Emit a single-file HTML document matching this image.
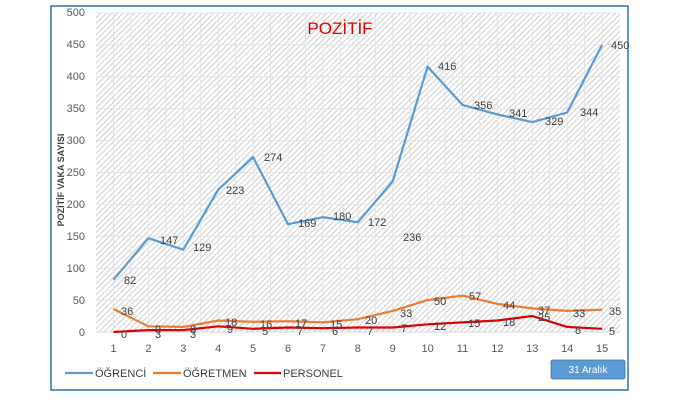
<!DOCTYPE html>
<html><head><meta charset="utf-8"><style>
body{margin:0;background:#fff;}
svg{display:block;font-family:"Liberation Sans",sans-serif;}
</style></head><body>
<svg width="687" height="404" viewBox="0 0 687 404" xmlns="http://www.w3.org/2000/svg">
<defs>
<pattern id="h" width="4" height="4" patternUnits="userSpaceOnUse" patternTransform="rotate(45)">
<rect width="4" height="4" fill="#fff"/><line x1="0" y1="0" x2="0" y2="4" stroke="#bdbdbd" stroke-width="1.4"/>
</pattern>
</defs>
<rect x="51" y="6" width="577" height="384" fill="#fff" stroke="#2e75b6" stroke-width="1.5"/>
<rect x="96" y="13" width="524" height="319" fill="url(#h)"/>
<g stroke="#e4e4e4" stroke-width="1">
<line x1="96" x2="620" y1="13" y2="13"/><line x1="96" x2="620" y1="44.9" y2="44.9"/><line x1="96" x2="620" y1="76.8" y2="76.8"/><line x1="96" x2="620" y1="108.7" y2="108.7"/><line x1="96" x2="620" y1="140.6" y2="140.6"/><line x1="96" x2="620" y1="172.5" y2="172.5"/><line x1="96" x2="620" y1="204.4" y2="204.4"/><line x1="96" x2="620" y1="236.3" y2="236.3"/><line x1="96" x2="620" y1="268.2" y2="268.2"/><line x1="96" x2="620" y1="300.1" y2="300.1"/>
<line y1="13" y2="332" x1="113.5" x2="113.5"/><line y1="13" y2="332" x1="131" x2="131"/><line y1="13" y2="332" x1="148.4" x2="148.4"/><line y1="13" y2="332" x1="165.8" x2="165.8"/><line y1="13" y2="332" x1="183.3" x2="183.3"/><line y1="13" y2="332" x1="200.7" x2="200.7"/><line y1="13" y2="332" x1="218.2" x2="218.2"/><line y1="13" y2="332" x1="235.6" x2="235.6"/><line y1="13" y2="332" x1="253.1" x2="253.1"/><line y1="13" y2="332" x1="270.5" x2="270.5"/><line y1="13" y2="332" x1="288" x2="288"/><line y1="13" y2="332" x1="305.4" x2="305.4"/><line y1="13" y2="332" x1="322.9" x2="322.9"/><line y1="13" y2="332" x1="340.3" x2="340.3"/><line y1="13" y2="332" x1="357.8" x2="357.8"/><line y1="13" y2="332" x1="375.2" x2="375.2"/><line y1="13" y2="332" x1="392.7" x2="392.7"/><line y1="13" y2="332" x1="410.1" x2="410.1"/><line y1="13" y2="332" x1="427.6" x2="427.6"/><line y1="13" y2="332" x1="445" x2="445"/><line y1="13" y2="332" x1="462.5" x2="462.5"/><line y1="13" y2="332" x1="479.9" x2="479.9"/><line y1="13" y2="332" x1="497.4" x2="497.4"/><line y1="13" y2="332" x1="514.8" x2="514.8"/><line y1="13" y2="332" x1="532.3" x2="532.3"/><line y1="13" y2="332" x1="549.7" x2="549.7"/><line y1="13" y2="332" x1="567.2" x2="567.2"/><line y1="13" y2="332" x1="584.6" x2="584.6"/><line y1="13" y2="332" x1="602.1" x2="602.1"/>
</g>
<line x1="96" x2="620" y1="332" y2="332" stroke="#d9d9d9"/>
<g font-size="11" fill="#595959" text-anchor="end">
<text x="85" y="16">500</text><text x="85" y="48">450</text><text x="85" y="80">400</text><text x="85" y="112">350</text><text x="85" y="144">300</text><text x="85" y="176">250</text><text x="85" y="208">200</text><text x="85" y="240">150</text><text x="85" y="272">100</text><text x="85" y="304">50</text><text x="85" y="336">0</text>
</g>
<g font-size="11" fill="#595959" text-anchor="middle">
<text x="113.5" y="352">1</text><text x="148.4" y="352">2</text><text x="183.3" y="352">3</text><text x="218.2" y="352">4</text><text x="253.1" y="352">5</text><text x="288" y="352">6</text><text x="322.9" y="352">7</text><text x="357.8" y="352">8</text><text x="392.7" y="352">9</text><text x="427.6" y="352">10</text><text x="462.5" y="352">11</text><text x="497.4" y="352">12</text><text x="532.3" y="352">13</text><text x="567.2" y="352">14</text><text x="602.1" y="352">15</text>
</g>
<text transform="translate(64,180) rotate(-90)" font-size="9" font-weight="bold" fill="#404040" text-anchor="middle">POZİTİF VAKA SAYISI</text>
<text x="340" y="34" font-size="17" fill="#e00000" text-anchor="middle">POZİTİF</text>
<polyline fill="none" stroke="#5b9bd5" stroke-width="2.2" stroke-linejoin="round" points="113.5,279.7 148.4,238.2 183.3,249.7 218.2,189.7 253.1,157.2 288,224.2 322.9,217.2 357.8,222.3 392.7,181.4 427.6,66.6 462.5,104.9 497.4,114.4 532.3,122.1 567.2,112.5 602.1,44.9"/>
<polyline fill="none" stroke="#ed7d31" stroke-width="2.2" stroke-linejoin="round" points="113.5,309 148.4,326.3 183.3,326.9 218.2,320.5 253.1,321.8 288,321.2 322.9,322.4 357.8,319.2 392.7,310.9 427.6,300.1 462.5,295.6 497.4,303.9 532.3,308.4 567.2,310.9 602.1,309.7"/>
<polyline fill="none" stroke="#e00000" stroke-width="2.2" stroke-linejoin="round" points="113.5,332 148.4,330.1 183.3,330.1 218.2,326.3 253.1,328.8 288,327.5 322.9,328.2 357.8,327.5 392.7,327.5 427.6,324.3 462.5,322.4 497.4,320.5 532.3,316 567.2,326.9 602.1,328.8"/>
<g font-size="11" fill="#404040">
<text x="124" y="284">82</text><text x="160" y="244">147</text><text x="193" y="251">129</text><text x="226" y="194">223</text><text x="264" y="161">274</text><text x="298" y="227">169</text><text x="333" y="220">180</text><text x="368" y="226">172</text><text x="403" y="241">236</text><text x="438" y="70">416</text><text x="474" y="109">356</text><text x="509" y="117">341</text><text x="545" y="125">329</text><text x="580" y="116">344</text><text x="611" y="49">450</text>
<text x="121" y="315">36</text><text x="155" y="333">9</text><text x="190" y="333">8</text><text x="225" y="326">18</text><text x="260" y="328">16</text><text x="295" y="327">17</text><text x="330" y="328">15</text><text x="365" y="324">20</text><text x="400" y="317">33</text><text x="434" y="305">50</text><text x="469" y="300">57</text><text x="503" y="309">44</text><text x="538" y="314">37</text><text x="573" y="317">33</text><text x="609" y="315">35</text>
<text x="121" y="338">0</text><text x="155" y="338">3</text><text x="190" y="338">3</text><text x="227" y="333">9</text><text x="262" y="335">5</text><text x="297" y="335">7</text><text x="332" y="335">6</text><text x="367" y="335">7</text><text x="401" y="332">7</text><text x="434" y="330">12</text><text x="468" y="327">15</text><text x="503" y="326">18</text><text x="538" y="321">25</text><text x="575" y="334">8</text><text x="609" y="335">5</text>
</g>
<g font-size="11" fill="#404040">
<line x1="65" x2="93" y1="373" y2="373" stroke="#5b9bd5" stroke-width="2.2"/><text x="95" y="377">ÖĞRENCİ</text>
<line x1="153" x2="181" y1="373" y2="373" stroke="#ed7d31" stroke-width="2.2"/><text x="183" y="377">ÖĞRETMEN</text>
<line x1="254" x2="281" y1="373" y2="373" stroke="#e00000" stroke-width="2.2"/><text x="283" y="377">PERSONEL</text>
</g>
<rect x="551" y="360" width="74" height="19" rx="2" fill="#5b9bd5" stroke="#41719c" stroke-width="0.8"/>
<text x="588" y="373" font-size="10" fill="#fff" text-anchor="middle">31 Aralık</text>
</svg>
</body></html>
